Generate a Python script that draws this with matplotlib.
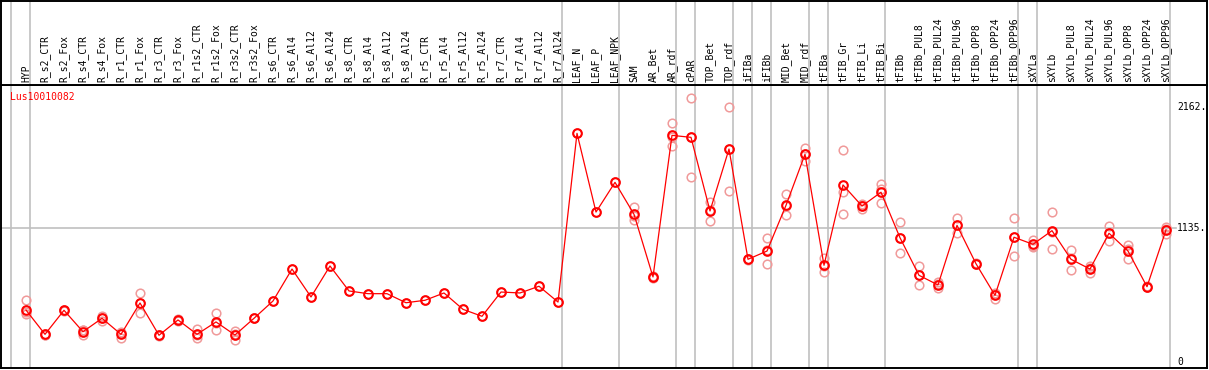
import matplotlib
matplotlib.use('Agg')
import matplotlib.pyplot as plt
from matplotlib.transforms import blended_transform_factory

# ---------------- data ----------------
columns = ['HYP', 'R_s2_CTR', 'R_s2_Fox', 'R_s4_CTR', 'R_s4_Fox', 'R_r1_CTR', 'R_r1_Fox',
           'R_r3_CTR', 'R_r3_Fox', 'R_r1s2_CTR', 'R_r1s2_Fox', 'R_r3s2_CTR', 'R_r3s2_Fox',
           'R_s6_CTR', 'R_s6_Al4', 'R_s6_Al12', 'R_s6_Al24', 'R_s8_CTR', 'R_s8_Al4',
           'R_s8_Al12', 'R_s8_Al24', 'R_r5_CTR', 'R_r5_Al4', 'R_r5_Al12', 'R_r5_Al24',
           'R_r7_CTR', 'R_r7_Al4', 'R_r7_Al12', 'R_r7_Al24', 'LEAF_N', 'LEAF_P', 'LEAF_NPK',
           'SAM', 'AR_Bet', 'AR_rdf', 'cPAR', 'TOP_Bet', 'TOP_rdf', 'iFIBa', 'iFIBb',
           'MID_Bet', 'MID_rdf', 'tFIBa', 'tFIB_Gr', 'tFIB_Li', 'tFIB_Bi', 'tFIBb',
           'tFIBb_PUL8', 'tFIBb_PUL24', 'tFIBb_PUL96', 'tFIBb_OPP8', 'tFIBb_OPP24',
           'tFIBb_OPP96', 'sXYLa', 'sXYLb', 'sXYLb_PUL8', 'sXYLb_PUL24', 'sXYLb_PUL96',
           'sXYLb_OPP8', 'sXYLb_OPP24', 'sXYLb_OPP96']

means = [441, 235, 439, 257, 371, 235, 501, 227, 357, 235, 340, 229, 371,
         518, 789, 552, 815, 603, 580, 580, 503, 524, 586, 447, 388, 594, 586, 643, 509,
         1941, 1273, 1525, 1254, 722, 1924, 1907, 1282, 1808, 872, 942, 1330, 1763,
         821, 1503, 1324, 1441, 1055, 736, 654, 1160, 834, 566, 1059,
         999, 1115, 872, 789, 1093, 942, 639, 1121]

replicates = [
    [526, 424, 407], [240, 232, 233], [445, 439, 433], [272, 229, 270], [390, 351, 371],
    [257, 206, 242], [586, 419, 498], [232, 222, 227], [362, 352, 357], [278, 201, 226],
    [413, 272, 335], [263, 187, 237], [371, 371, 371],
    [518], [789], [552], [815], [603], [580], [580], [503], [524], [586], [447], [388],
    [594], [586], [643], [509],
    [1941], [1273], [1525],
    [1316, 1205, 1241], [730, 715, 722], [2026, 1834, 1912], [2239, 1568, 1914],
    [1361, 1194, 1291], [2162, 1454, 1808], [868, 876, 872], [1050, 829, 947],
    [1424, 1245, 1321], [1817, 1706, 1766], [880, 767, 816], [1797, 1441, 1254],
    [1299, 1330, 1343], [1511, 1347, 1465], [1186, 923, 1056], [812, 656, 740],
    [676, 626, 660], [1222, 1098, 1160], [830, 838, 834], [588, 535, 575],
    [1222, 897, 1058], [1036, 979, 982], [1276, 962, 1107], [953, 781, 882],
    [815, 753, 799], [1155, 1030, 1094], [993, 877, 956], [635, 643, 639],
    [1149, 1087, 1127],
]

group_ends = [-1, 0, 28, 31, 34, 35, 37, 38, 39, 41, 42, 45, 52, 53, 60]
tick_values = [0, 1135, 2162]
tick_labels = ['0', '1135.', '2162.']
gene = 'Lus10010082'

# ---------------- layout ----------------
W, H = 1209, 370
fig = plt.figure(figsize=(W / 100, H / 100), dpi=100)

left_px, right_px = 1, 1207
top_px, head_px, bottom_px = 0.5, 85, 368
x0_px, dx_px = 26, 19
zero_px, px_per_unit = 362, 0.1178

ax = fig.add_axes([left_px / W, 1 - bottom_px / H, (right_px - left_px) / W,
                   (bottom_px - head_px) / H])
axh = fig.add_axes([left_px / W, 1 - head_px / H, (right_px - left_px) / W,
                    (head_px - top_px) / H])

xlim = ((left_px - x0_px) / dx_px, (right_px - x0_px) / dx_px)
ylim = (-(bottom_px - zero_px) / px_per_unit, (zero_px - head_px) / px_per_unit)
for a in (ax, axh):
    a.set_xlim(*xlim)
    a.set_xticks([])
    a.set_yticks([])
    for s in a.spines.values():
        s.set_color('black')
        s.set_linewidth(1.4)
ax.set_ylim(*ylim)
axh.set_ylim(0, 1)

grey = '#c0c0c0'
# group separators
for k in group_ends:
    xs = k + 0.235
    ax.axvline(xs, color=grey, lw=1.2, zorder=0)
    axh.axvline(xs, color=grey, lw=1.2, zorder=0)

# horizontal reference line
x_end = (1176 - x0_px) / dx_px
ax.plot([xlim[0], x_end], [tick_values[1], tick_values[1]], color=grey, lw=1.2, zorder=0)

# replicate points
for i, reps in enumerate(replicates):
    ax.plot([i] * len(reps), reps, linestyle='none', marker='o', ms=6.2,
            mfc='none', mec='#f09a9a', mew=1.1, zorder=2)

# mean line & points
xs = list(range(len(means)))
ax.plot(xs, means, color='#ff0000', lw=0.9, zorder=3)
ax.plot(xs, means, linestyle='none', marker='o', ms=6.2, mfc='none',
        mec='#ff0000', mew=1.5, zorder=4)

# header labels
for i, name in enumerate(columns):
    axh.text(i, 3 / (head_px - top_px), name, rotation=90, ha='center', va='bottom',
             family='DejaVu Sans Mono', fontsize=7.0, color='black')

# right-hand value labels
tr = blended_transform_factory(ax.transAxes, ax.transData)
lab_x = (1177 - left_px) / (right_px - left_px)
for v, t in zip(tick_values, tick_labels):
    ax.text(lab_x, v, t, transform=tr, ha='left', va='center',
            family='DejaVu Sans Mono', fontsize=7.0, color='black')

# gene name
ax.text((10 - left_px) / (right_px - left_px), 1 - (97 - head_px) / (bottom_px - head_px),
        gene, transform=ax.transAxes, ha='left', va='center',
        family='DejaVu Sans Mono', fontsize=7.0, color='#ff0000')

fig.savefig('out.png', dpi=100)
